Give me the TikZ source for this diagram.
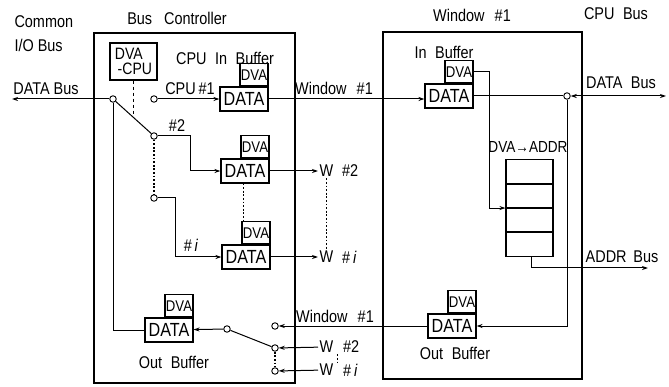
\documentclass[tikz,border=0pt]{standalone}
\usepackage{fontspec}
\setmainfont{Liberation Sans}[FakeStretch=0.85]
\usetikzlibrary{arrows.meta,calc}
\tikzset{
  lbl/.style={font=\fontsize{17}{18}\selectfont, inner sep=1pt},
  databox/.style={draw, line width=1.1pt, minimum width=48pt, minimum height=24pt, inner sep=0pt, font=\fontsize{19}{19}\selectfont},
  dvabox/.style={draw, line width=1.1pt, minimum width=28pt, minimum height=22pt, inner sep=0pt, font=\fontsize{15.5}{15.5}\selectfont},
  contact/.style={draw, circle, fill=white, line width=0.9pt, minimum size=6.5pt, inner sep=0pt},
  tabrow/.style={draw, line width=1.1pt, minimum width=47pt, minimum height=23.25pt, inner sep=0pt},
  dots/.style={dash pattern=on 1.8pt off 1.8pt, line width=1.1pt},
}
\begin{document}
\begin{tikzpicture}[x=1pt,y=-1pt,line width=1pt,>={Stealth[length=6pt,width=4pt]}]
\useasboundingbox (0,0) rectangle (669,387);
% frames
\draw[line width=1.2pt] (94,33) rectangle (295,383);
\draw[line width=1.2pt] (383,32) rectangle (582,379);
% titles
\node[lbl,anchor=west] (common) at (13,22) {Common};
\node[lbl,anchor=west] (iobus) at (13,45) {I/O Bus};
\node[lbl] (busctl) at (177,18) {Bus\hspace{0.7em}Controller};
\node[lbl] (wintitle) at (472,15) {Window\hspace{0.6em}\#1};
\node[lbl] (cpubus) at (616,14) {CPU\hspace{0.5em}Bus};
% bus controller, in side
\coordinate (busL) at (12,99);
\node[lbl] (databusL) at (46,89) {DATA Bus};
\node[contact] (p0) at (113,99) {};
\node[contact] (c1) at (154,99) {};
\node[contact] (c2) at (154,136) {};
\node[contact] (ci) at (154,198) {};
\node[draw,line width=1.1pt,minimum width=47pt,minimum height=37pt,align=left,inner sep=2pt,
  font=\fontsize{16.5}{15.5}\selectfont] (dvacpu) at (133.5,61.5) {DVA\\\,-CPU};
\node[lbl] (cpuin) at (225,58) {CPU\hspace{0.5em}In\hspace{0.5em}Buffer};
\node[databox] (data1) at (244,99) {DATA};
\node[dvabox,anchor=south east] (dva1) at (data1.north east) {DVA};
\node[databox] (data2) at (245,171) {DATA};
\node[dvabox,anchor=south east] (dva2) at (data2.north east) {DVA};
\node[databox] (datai) at (246,257) {DATA};
\node[dvabox,anchor=south east] (dvai) at (datai.north east) {DVA};
\node[lbl] (lcpu1) at (190,89) {CPU\,\#1};
\node[lbl] (l2) at (177,126) {\#2};
\node[lbl] (li) at (191,245) {\#\,\textit{i}};
\node[lbl] (lwin1) at (334,88) {Window\hspace{0.6em}\#1};
\node[lbl,anchor=west] (w2) at (318,171) {W};
\node[lbl,anchor=west] (n2) at ([xshift=6pt]w2.east) {\#2};
\node[lbl,anchor=west] (wi) at (318,257) {W};
\node[lbl,anchor=west] (ni) at ([xshift=6pt]wi.east) {\#\,\textit{i}};
% bus controller, out side
\node[databox] (dataO) at (169,330) {DATA};
\node[dvabox,anchor=south east] (dvaO) at (dataO.north east) {DVA};
\node[lbl] (outbuf) at (174,362) {Out\hspace{0.5em}Buffer};
\node[contact] (po) at (227,329) {};
\node[contact] (ow1) at (275,326) {};
\node[contact] (ow2) at (275,348) {};
\node[contact] (owi) at (275,371) {};
\node[lbl] (lwin1b) at (335,316) {Window\hspace{0.6em}\#1};
\node[lbl,anchor=west] (w2b) at (318,347) {W};
\node[lbl,anchor=west] (n2b) at ([xshift=7pt]w2b.east) {\#2};
\node[lbl,anchor=west] (wib) at (318,370) {W};
\node[lbl,anchor=west] (nib) at ([xshift=7pt]wib.east) {\#\,\textit{i}};
% window #1
\node[lbl] (inbuf) at (444,52) {In\hspace{0.5em}Buffer};
\node[databox] (rdataI) at (449,96) {DATA};
\node[dvabox,anchor=south east] (rdvaI) at (rdataI.north east) {DVA};
\node[contact] (j) at (567,96) {};
\coordinate (dataR) at (666,96);
\node[lbl] (rdatabus) at (621,83) {DATA\hspace{0.5em}Bus};
\node[lbl,font=\fontsize{16}{17}\selectfont] (dva2addr) at (528,147) {DVA→ADDR};
\node[tabrow] (row1) at (529.5,171.5) {};
\node[tabrow,anchor=north] (row2) at (row1.south) {};
\node[tabrow,anchor=north] (row3) at (row2.south) {};
\node[tabrow,anchor=north] (row4) at (row3.south) {};
\coordinate (addrR) at (648,268);
\node[lbl] (addrbus) at (622,257) {ADDR\hspace{0.4em}Bus};
\node[databox] (rdataO) at (452,326) {DATA};
\node[dvabox,anchor=south east] (rdvaO) at (rdataO.north east) {DVA};
\node[lbl] (routbuf) at (455,353) {Out\hspace{0.5em}Buffer};
% connectors, in side
\draw[->] (p0) -- (busL);
\draw (p0) -- (c2);
\coordinate (blade) at ($(p0)!0.51!(c2)$);
\draw[dashed] (dvacpu.south) -- (dvacpu.south |- blade);
\draw[->] (c1) -- (data1);
\draw[->] (c2) -- ++(36,0) |- (data2);
\draw[->] (ci) -- ++(21,0) |- (datai);
\draw[dots] (c2) -- (ci);
\draw[dots] ([xshift=2pt]dvai.north west |- data2.south) -- ([xshift=2pt]dvai.north west);
\draw[->] (data1.east) -- (data1.east -| rdataI.west);
\draw[->] (data2) -- (w2);
\draw[->] (datai) -- (wi);
\draw[dots] (w2) -- (wi);
% connectors, out side
\draw (p0) -- (p0 |- dataO) -- (dataO);
\draw[->] (po) -- (dataO);
\draw (po) -- (ow2);
\draw[dots] (ow2) -- (owi);
\draw[->] (rdataO.west) -- (ow1);
\draw[->] (w2b) -- (ow2);
\draw[->] (wib) -- (owi);
\draw[dots] ([xshift=3pt]w2b.south east) -- ([xshift=3pt]wib.north east);
% connectors, window #1
\draw (rdataI) -- (j);
\draw[<->] (j) -- (dataR);
\draw[->] (j) |- (rdataO);
\draw[->] (rdvaI.east) -- ++(16,0) |- (row2.south west);
\draw[->] ([xshift=2pt]row4.south) |- (addrR);
\end{tikzpicture}
\end{document}
